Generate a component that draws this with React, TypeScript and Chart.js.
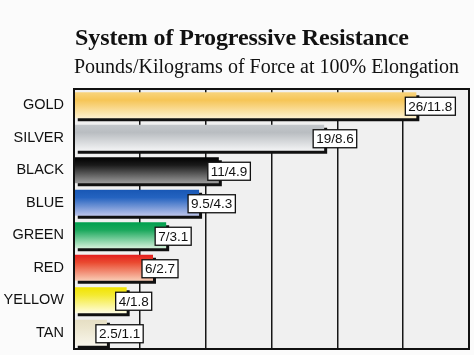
import React, { useEffect, useRef } from "react";
import { Chart, registerables } from "chart.js";

Chart.register(...registerables);

const categories = ["GOLD", "SILVER", "BLACK", "BLUE", "GREEN", "RED", "YELLOW", "TAN"];
const pounds = [26, 19, 11, 9.5, 7, 6, 4, 2.5];
const kilograms = [11.8, 8.6, 4.9, 4.3, 3.1, 2.7, 1.8, 1.1];
const axisMin = 0;
const axisMax = 30;
const axisStep = 5;

const titleText = "System of Progressive Resistance";
const subtitleText = "Pounds/Kilograms of Force at 100% Elongation";

const barGradients: string[][] = [
  ["#f8d47e", "#f6c556", "#fdf1cf"],
  ["#c3c7cb", "#b9bdc1", "#f3f4f5"],
  ["#000000", "#1a1a1a", "#9c9c9c"],
  ["#1857b5", "#2463c0", "#bcc4ea"],
  ["#00a04e", "#1aa85c", "#d4f1da"],
  ["#e31e1e", "#ea4a30", "#f9cdb6"],
  ["#f1e300", "#f4ea30", "#fffde2"],
  ["#e6dfc4", "#ebe5cd", "#f9f6ec"],
];

const pageBg = "#fbfbfb";
const plotBg = "#f0f0f0";

export default function App() {
  const canvasRef = useRef<HTMLCanvasElement | null>(null);

  useEffect(() => {
    document.body.style.margin = "0";
    const canvas = canvasRef.current;
    if (!canvas) return;

    const bgPlugin = {
      id: "bgPlugin",
      beforeDraw(chart: any) {
        const { ctx, chartArea, width, height } = chart;
        ctx.save();
        ctx.fillStyle = pageBg;
        ctx.fillRect(0, 0, width, height);
        ctx.fillStyle = plotBg;
        ctx.fillRect(chartArea.left, chartArea.top, chartArea.right - chartArea.left, chartArea.bottom - chartArea.top);
        ctx.restore();
      },
    };

    const shadowPlugin = {
      id: "shadowPlugin",
      beforeDatasetDraw(chart: any) {
        const ctx = chart.ctx;
        ctx.save();
        ctx.shadowColor = "#101010";
        ctx.shadowOffsetX = 3;
        ctx.shadowOffsetY = 3;
        ctx.shadowBlur = 0;
      },
      afterDatasetDraw(chart: any) {
        chart.ctx.restore();
      },
    };

    const labelPlugin = {
      id: "labelPlugin",
      afterDatasetsDraw(chart: any) {
        const { ctx, chartArea } = chart;
        ctx.save();
        // frame
        ctx.strokeStyle = "#111";
        ctx.lineWidth = 2;
        ctx.strokeRect(chartArea.left, chartArea.top, chartArea.right - chartArea.left, chartArea.bottom - chartArea.top);
        // value boxes
        const meta = chart.getDatasetMeta(0);
        ctx.font = "13.5px 'Liberation Sans', Arial, sans-serif";
        ctx.textBaseline = "middle";
        ctx.textAlign = "left";
        meta.data.forEach((bar: any, i: number) => {
          const text = `${pounds[i]}/${kilograms[i]}`;
          const tw = ctx.measureText(text).width;
          const padX = 3;
          const h = 18;
          const x = bar.x - 11;
          const y = bar.y + 1 - h / 2;
          ctx.fillStyle = "#ffffff";
          ctx.fillRect(x, y, tw + padX * 2, h);
          ctx.strokeStyle = "#111";
          ctx.lineWidth = 1.3;
          ctx.strokeRect(x, y, tw + padX * 2, h);
          ctx.fillStyle = "#111";
          ctx.fillText(text, x + padX, y + h / 2 + 1);
        });
        ctx.restore();
      },
    };

    const chart = new Chart(canvas, {
      type: "bar",
      data: {
        labels: categories,
        datasets: [
          {
            data: pounds,
            backgroundColor: (c: any) => {
              const ch = c.chart;
              const stops = barGradients[c.dataIndex] || barGradients[0];
              if (!ch.chartArea || !ch.scales.y) return stops[1];
              const yScale = ch.scales.y;
              const yc = yScale.getPixelForValue(c.dataIndex);
              const pitch = (ch.chartArea.bottom - ch.chartArea.top) / categories.length;
              const half = (pitch * 0.8) / 2;
              const g = ch.ctx.createLinearGradient(0, yc - half, 0, yc + half);
              g.addColorStop(0, stops[0]);
              g.addColorStop(0.3, stops[1]);
              g.addColorStop(1, stops[2]);
              return g;
            },
            borderWidth: 0,
            barPercentage: 0.8,
            categoryPercentage: 1,
          },
        ],
      },
      options: {
        indexAxis: "y",
        animation: false,
        responsive: false,
        maintainAspectRatio: false,
        layout: { padding: { top: 89, right: 5, bottom: 6, left: 0 } },
        plugins: {
          legend: { display: false },
          title: { display: false },
          tooltip: { enabled: false },
        },
        scales: {
          x: {
            min: axisMin,
            max: axisMax,
            afterFit: (s: any) => {
              s.height = 0;
              s.paddingLeft = 0;
              s.paddingRight = 0;
            },
            ticks: { display: false, stepSize: axisStep },
            grid: { color: "#161616", lineWidth: 1.5, drawTicks: false },
            border: { display: false },
          },
          y: {
            afterFit: (s: any) => {
              s.width = 74;
              s.paddingTop = 0;
              s.paddingBottom = 0;
            },
            grid: { display: false, drawTicks: false },
            border: { display: false },
            ticks: {
              padding: 10,
              color: "#111",
              font: { family: "'Liberation Sans', Arial, sans-serif", size: 14.5 },
            },
          },
        },
      },
      plugins: [bgPlugin, shadowPlugin, labelPlugin],
    } as any);

    return () => chart.destroy();
  }, []);

  return (
    <div style={{ position: "relative", width: 474, height: 355, background: pageBg, overflow: "hidden" }}>
      <canvas ref={canvasRef} width={474} height={355} style={{ position: "absolute", left: 0, top: 0, width: 474, height: 355 }} />
      <div
        style={{
          position: "absolute",
          left: 75,
          top: 25,
          fontFamily: "'Liberation Serif', 'Times New Roman', serif",
          fontWeight: "bold",
          fontSize: 24,
          lineHeight: "24px",
          letterSpacing: "-0.1px",
          color: "#111",
          whiteSpace: "nowrap",
        }}
      >
        {titleText}
      </div>
      <div
        style={{
          position: "absolute",
          left: 74,
          top: 56,
          fontFamily: "'Liberation Serif', 'Times New Roman', serif",
          fontSize: 20,
          lineHeight: "20px",
          color: "#111",
          whiteSpace: "nowrap",
        }}
      >
        {subtitleText}
      </div>
    </div>
  );
}
